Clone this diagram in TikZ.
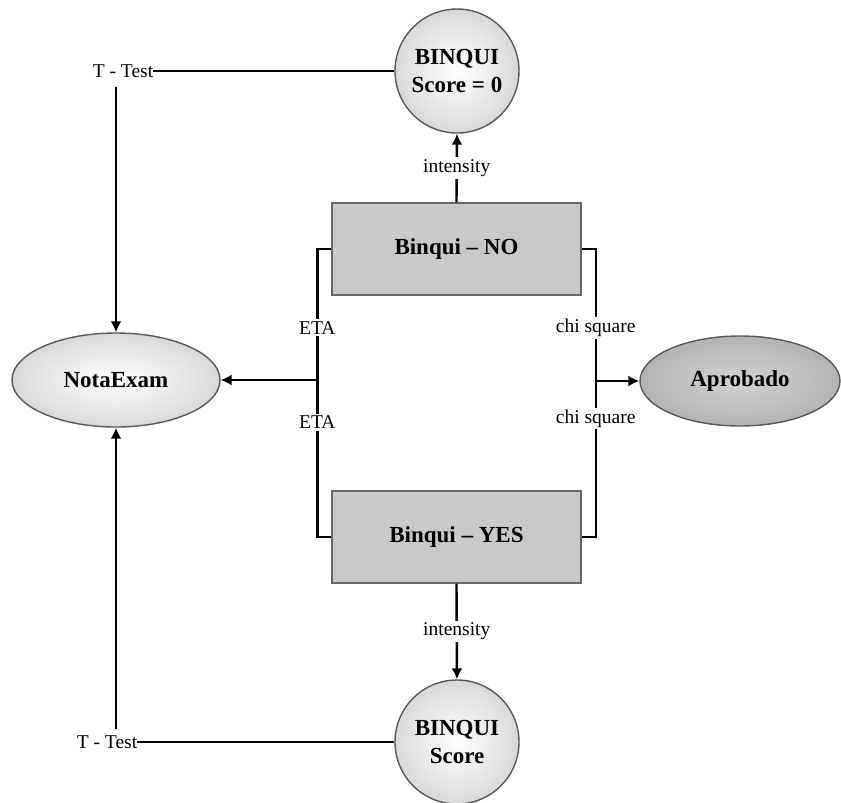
\documentclass[tikz,border=0pt]{standalone}
\usepackage{fontspec}
\setmainfont{Liberation Serif}
\usepackage{tikz}
\usetikzlibrary{shapes,arrows.meta,positioning,calc}

\begin{document}
\begin{tikzpicture}[
    x=1pt, y=-1pt,
    score/.style={circle, draw=black!65, line width=1.4pt, inner color=white, outer color=gray!30, minimum size=124pt, align=center, font=\fontsize{23}{28}\selectfont\bfseries},
    group/.style={rectangle, draw=black!60, line width=1.4pt, fill=gray!42, minimum width=249pt, minimum height=92pt, font=\fontsize{23}{26}\selectfont\bfseries},
    outcome/.style={ellipse, draw=black!65, line width=1.4pt, inner color=white, outer color=gray!30, minimum width=208pt, minimum height=94pt, font=\fontsize{23}{26}\selectfont\bfseries},
    passed/.style={outcome, inner color=gray!35, outer color=gray!60, minimum width=200pt, minimum height=90pt},
    lbl/.style={fill=white, inner sep=2pt, font=\fontsize{19.5}{22}\selectfont},
    wire/.style={draw, line width=2.4pt},
    line/.style={draw, -{Latex[length=11pt, width=11pt]}, line width=2.4pt}
]
    \useasboundingbox (0,0) rectangle (841,803);

    % Nodes
    \node [score] (zero) at (457,71) {BINQUI\\Score = 0};
    \node [group] (no) at (456.5,249) {Binqui -- NO};
    \node [group] (yes) at (456.5,537) {Binqui -- YES};
    \node [outcome] (nota) at (116,380) {NotaExam};
    \node [passed] (aprob) at (740,381) {Aprobado};
    \node [score] (bscore) at (457,742) {BINQUI\\Score};
    \node [lbl, inner sep=0pt] (ttop) at (123,71) {T - Test};
    \node [lbl, inner sep=0pt] (tbot) at (107,742) {T - Test};

    % T - Test paths
    \draw [wire] (ttop.east) -- (zero.west);
    \draw [line] ($(nota.north |- ttop.south)+(0,9)$) -- (nota.north);
    \draw [wire] (tbot.east) -- (bscore.west);
    \draw [line] ($(nota.south |- tbot.north)+(0,-6)$) -- (nota.south);

    % intensity
    \draw [line] (no.north) -- node [lbl] {intensity} (zero.south);
    \draw [line] (yes.south) -- node [lbl] {intensity} (bscore.north);

    % ETA bracket
    \draw [wire] (no.west) -- ++(-14,0) coordinate (nl)
        -- node [lbl, pos=0.6] {ETA} (nl |- nota.east) coordinate (lj)
        -- node [lbl, pos=0.27] {ETA} (nl |- yes.west) -- (yes.west);
    \draw [line] (lj) -- (nota.east);

    % chi square bracket
    \draw [wire] (no.east) -- ++(14,0) coordinate (nr)
        -- node [lbl, pos=0.6] {chi square} (nr |- aprob.west) coordinate (rj)
        -- node [lbl, pos=0.24] {chi square} (nr |- yes.east) -- (yes.east);
    \draw [line] (rj) -- (aprob.west);

\end{tikzpicture}
\end{document}
